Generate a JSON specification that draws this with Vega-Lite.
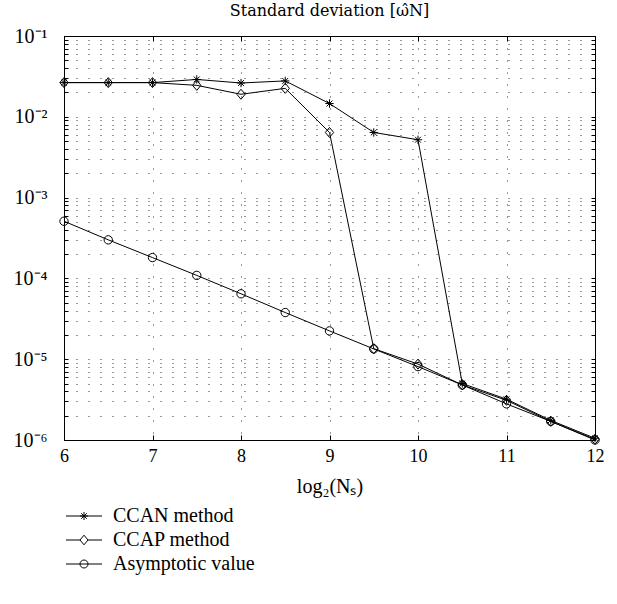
{
  "$schema": "https://vega.github.io/schema/vega-lite/v6.json",
  "width": 531,
  "height": 404,
  "autosize": "none",
  "padding": {"left": 64, "top": 36, "right": 22, "bottom": 164},
  "background": "white",
  "config": {
    "font": "Liberation Serif",
    "view": {"stroke": "black", "strokeWidth": 1},
    "axis": {"labelFont": "Liberation Serif", "titleFont": "Liberation Serif", "labelColor": "black", "titleColor": "black"}
  },
  "title": {"text": "Standard deviation [\u03c9\u0302N]", "font": "DejaVu Serif", "fontSize": 16, "fontWeight": "normal", "color": "black", "anchor": "middle", "offset": 7},
  "data": {"values": [
    {"x": 6, "y": 0.0265, "s": "CCAN method"},
    {"x": 6.5, "y": 0.0265, "s": "CCAN method"},
    {"x": 7, "y": 0.0265, "s": "CCAN method"},
    {"x": 7.5, "y": 0.0290, "s": "CCAN method"},
    {"x": 8, "y": 0.0262, "s": "CCAN method"},
    {"x": 8.5, "y": 0.0278, "s": "CCAN method"},
    {"x": 9, "y": 0.0146, "s": "CCAN method"},
    {"x": 9.5, "y": 0.0064, "s": "CCAN method"},
    {"x": 10, "y": 0.0052, "s": "CCAN method"},
    {"x": 10.5, "y": 0.0000050, "s": "CCAN method"},
    {"x": 11, "y": 0.0000032, "s": "CCAN method"},
    {"x": 11.5, "y": 0.00000175, "s": "CCAN method"},
    {"x": 12, "y": 0.00000105, "s": "CCAN method"},
    {"x": 6, "y": 0.0265, "s": "CCAP method"},
    {"x": 6.5, "y": 0.0265, "s": "CCAP method"},
    {"x": 7, "y": 0.0265, "s": "CCAP method"},
    {"x": 7.5, "y": 0.0245, "s": "CCAP method"},
    {"x": 8, "y": 0.0190, "s": "CCAP method"},
    {"x": 8.5, "y": 0.0225, "s": "CCAP method"},
    {"x": 9, "y": 0.0064, "s": "CCAP method"},
    {"x": 9.5, "y": 0.0000135, "s": "CCAP method"},
    {"x": 10, "y": 0.0000087, "s": "CCAP method"},
    {"x": 10.5, "y": 0.0000048, "s": "CCAP method"},
    {"x": 11, "y": 0.0000031, "s": "CCAP method"},
    {"x": 11.5, "y": 0.0000017, "s": "CCAP method"},
    {"x": 12, "y": 0.00000102, "s": "CCAP method"},
    {"x": 6, "y": 0.00051, "s": "Asymptotic value"},
    {"x": 6.5, "y": 0.000300, "s": "Asymptotic value"},
    {"x": 7, "y": 0.000181, "s": "Asymptotic value"},
    {"x": 7.5, "y": 0.000109, "s": "Asymptotic value"},
    {"x": 8, "y": 0.0000645, "s": "Asymptotic value"},
    {"x": 8.5, "y": 0.0000378, "s": "Asymptotic value"},
    {"x": 9, "y": 0.0000224, "s": "Asymptotic value"},
    {"x": 9.5, "y": 0.0000134, "s": "Asymptotic value"},
    {"x": 10, "y": 0.0000081, "s": "Asymptotic value"},
    {"x": 10.5, "y": 0.0000048, "s": "Asymptotic value"},
    {"x": 11, "y": 0.0000028, "s": "Asymptotic value"},
    {"x": 11.5, "y": 0.0000017, "s": "Asymptotic value"},
    {"x": 12, "y": 0.0000010, "s": "Asymptotic value"}
  ]},
  "resolve": {"axis": {"x": "independent", "y": "independent"}, "scale": {"shape": "independent"}},
  "layer": [
    {
      "mark": {"type": "line", "color": "black", "strokeWidth": 1},
      "encoding": {
        "x": {"field": "x", "type": "quantitative", "scale": {"domain": [6, 12], "nice": false, "zero": false},
          "axis": {"values": [6, 7, 8, 9, 10, 11, 12], "title": "log₂(Nₛ)", "titleFontSize": 20, "titleFontWeight": "normal", "titlePadding": 11, "labelFontSize": 18, "labelPadding": 12, "tickSize": -5, "tickColor": "black", "domain": false, "grid": true, "gridColor": "black", "gridDash": [1, 11], "gridOpacity": 0.8, "labelFlush": false}},
        "y": {"field": "y", "type": "quantitative", "scale": {"type": "log", "domain": [0.000001, 0.1], "nice": false},
          "axis": {"values": [0.000001, 0.000002, 0.000003, 0.000004, 0.000005, 0.000006, 0.000007, 0.000008, 0.000009, 0.00001, 0.00002, 0.00003, 0.00004, 0.00005, 0.00006, 0.00007, 0.00008, 0.00009, 0.0001, 0.0002, 0.0003, 0.0004, 0.0005, 0.0006, 0.0007, 0.0008, 0.0009, 0.001, 0.002, 0.003, 0.004, 0.005, 0.006, 0.007, 0.008, 0.009, 0.01, 0.02, 0.03, 0.04, 0.05, 0.06, 0.07, 0.08, 0.09, 0.1],
            "labelExpr": "abs(log(datum.value)/LN10 - round(log(datum.value)/LN10)) < 0.001 ? '10' + ['⁰','⁻¹','⁻²','⁻³','⁻⁴','⁻⁵','⁻⁶'][-round(log(datum.value)/LN10)] : ''",
            "title": null, "labelFontSize": 20, "labelPadding": 21, "tickSize": -4, "tickColor": "black", "domain": false, "grid": true, "gridColor": "black", "gridDash": [1, 11], "gridOpacity": 0.8, "labelFlush": false, "labelOverlap": false}},
        "detail": {"field": "s"}
      }
    },
    {
      "mark": {"type": "point", "filled": false, "stroke": "black", "strokeWidth": 1, "size": 70, "opacity": 1},
      "encoding": {
        "x": {"field": "x", "type": "quantitative", "axis": {"orient": "top", "values": [6, 7, 8, 9, 10, 11, 12], "labels": false, "title": null, "tickSize": -5, "tickColor": "black", "domain": false, "grid": false}},
        "y": {"field": "y", "type": "quantitative", "axis": {"orient": "right", "values": [0.000001, 0.000002, 0.000003, 0.000004, 0.000005, 0.000006, 0.000007, 0.000008, 0.000009, 0.00001, 0.00002, 0.00003, 0.00004, 0.00005, 0.00006, 0.00007, 0.00008, 0.00009, 0.0001, 0.0002, 0.0003, 0.0004, 0.0005, 0.0006, 0.0007, 0.0008, 0.0009, 0.001, 0.002, 0.003, 0.004, 0.005, 0.006, 0.007, 0.008, 0.009, 0.01, 0.02, 0.03, 0.04, 0.05, 0.06, 0.07, 0.08, 0.09, 0.1], "labels": false, "title": null, "tickSize": -4, "tickColor": "black", "domain": false, "grid": false}},
        "shape": {"field": "s", "type": "nominal",
          "scale": {"domain": ["CCAN method", "CCAP method", "Asymptotic value"], "range": ["M-1,0L1,0M0,-1L0,1M-0.7,-0.7L0.7,0.7M-0.7,0.7L0.7,-0.7", "M0,-1.2L1,0L0,1.2L-1,0Z", "M-1,0A1,1,0,1,1,1,0A1,1,0,1,1,-1,0Z"]},
          "legend": null
        }
      }
    },
    {
      "transform": [{"filter": "false"}],
      "mark": {"type": "point", "filled": false, "stroke": "black", "strokeWidth": 1, "size": 64, "opacity": 1},
      "encoding": {
        "x": {"field": "x", "type": "quantitative", "axis": null},
        "y": {"field": "y", "type": "quantitative", "axis": null},
        "shape": {"field": "s", "type": "nominal",
          "scale": {"domain": ["CCAN method", "CCAP method", "Asymptotic value"], "range": ["M-4.5,0L4.5,0M-1,0L1,0M0,-1L0,1M-0.7,-0.7L0.7,0.7M-0.7,0.7L0.7,-0.7", "M-4.5,0L-1,0M1,0L4.5,0M0,-1.2L1,0L0,1.2L-1,0Z", "M-4.5,0L4.5,0M-1,0A1,1,0,1,1,1,0A1,1,0,1,1,-1,0Z"]},
          "legend": {"title": null, "orient": "none", "legendX": 10, "legendY": 470, "symbolSize": 64, "symbolStrokeColor": "black", "symbolStrokeWidth": 1, "symbolFillColor": "transparent", "symbolOpacity": 1, "labelOffset": 19, "labelFontSize": 20, "labelFont": "Liberation Serif", "labelColor": "black", "rowPadding": 4}
        }
      }
    }
  ]
}
